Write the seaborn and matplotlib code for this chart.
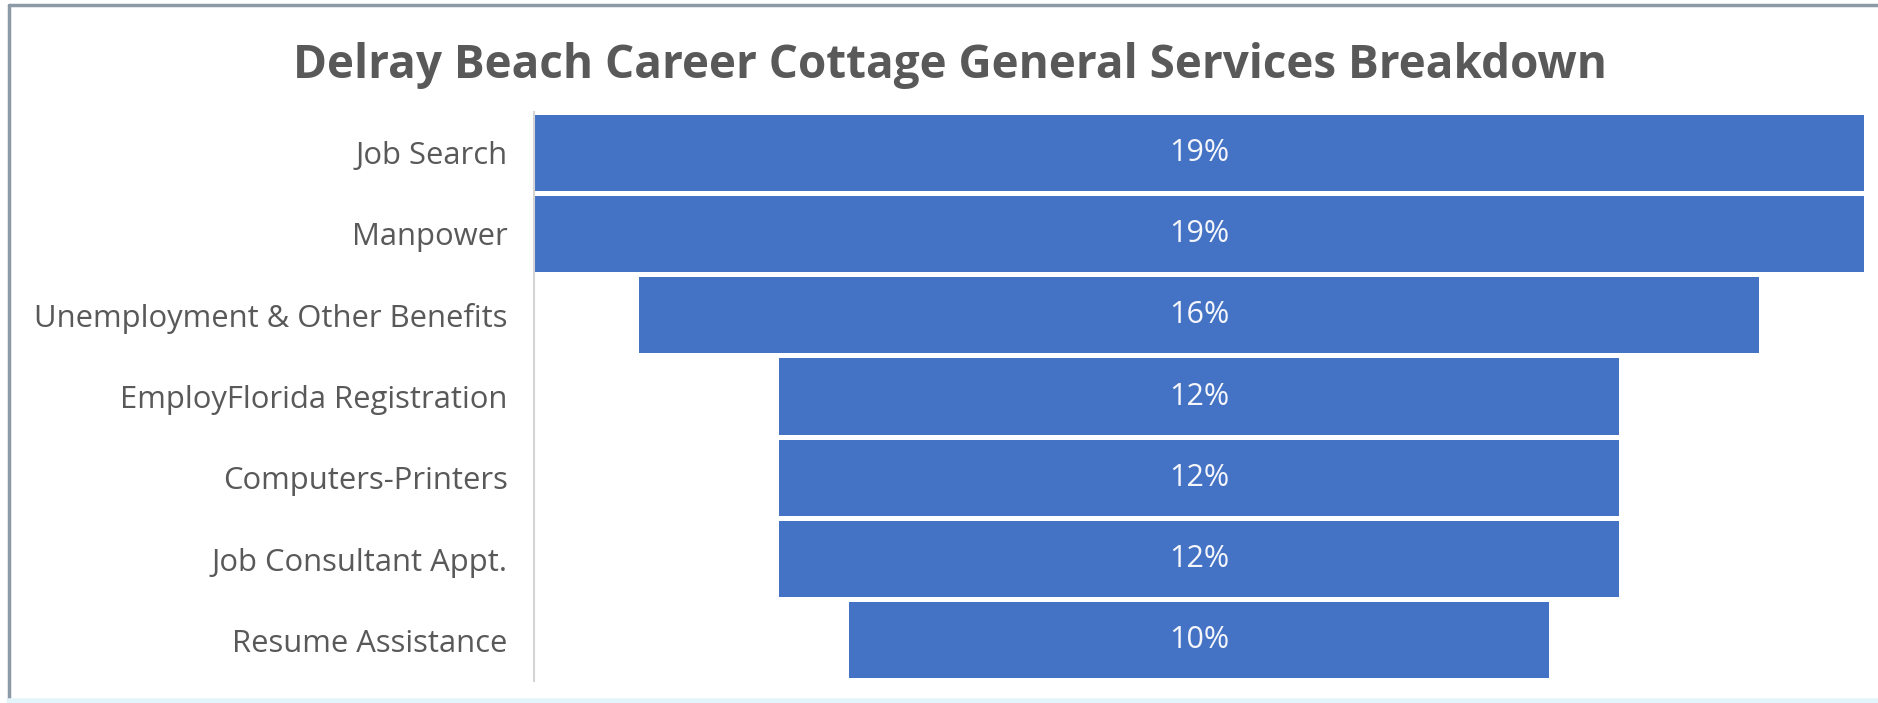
import matplotlib
matplotlib.use("Agg")
import matplotlib.pyplot as plt
import seaborn as sns
from matplotlib.lines import Line2D

# data
services = ["Job Search", "Manpower", "Unemployment & Other Benefits",
            "EmployFlorida Registration", "Computers-Printers",
            "Job Consultant Appt.", "Resume Assistance"]
shares = [19, 19, 16, 12, 12, 12, 10]

sns.set_theme(style="white")
plt.rcParams['font.family'] = ['Open Sans', 'DejaVu Sans']

fig = plt.figure(figsize=(18.78, 7.03), dpi=100)
ax = fig.add_axes([534/1878, 1 - 681/703, 1330/1878, 569/703])

sns.barplot(x=shares, y=services, color="#4472C4", saturation=1,
            width=0.935, orient="h", ax=ax)

# funnel: centre each bar on the widest one
top = max(shares)
for patch, v in zip(ax.patches, shares):
    patch.set_x((top - v) / 2)
    patch.set_linewidth(0)

for i, v in enumerate(shares):
    ax.text(top / 2, i, f"{v}%", ha="center", va="center",
            fontsize=22, color="#f4f6fb")

ax.set_xlim(0, top)
ax.set_ylim(len(services) - 0.5, -0.5)
ax.set_xticks([])
ax.set_xlabel("")
ax.set_ylabel("")
ax.tick_params(axis="y", length=0, pad=19, labelsize=22.3, labelcolor="#595959")

for s in ["top", "right", "bottom"]:
    ax.spines[s].set_visible(False)
ax.spines["left"].set_color("#d4d4d4")
ax.spines["left"].set_linewidth(1.5)

fig.text(950/1878, 1 - 78/703, "Delray Beach Career Cottage General Services Breakdown",
         ha="center", va="baseline", fontsize=33, fontweight="bold", color="#595959")

# outer frame of the chart area
fig.add_artist(Line2D([9/1878, 9/1878], [0, 1 - 5/703], color="#8c9aa8", lw=2.5))
fig.add_artist(Line2D([9/1878, 1], [1 - 5/703, 1 - 5/703], color="#8c9aa8", lw=2.5))
fig.add_artist(Line2D([9/1878, 1], [2/703, 2/703], color="#e3f5fa", lw=4))

fig.savefig("out.png", dpi=100)
